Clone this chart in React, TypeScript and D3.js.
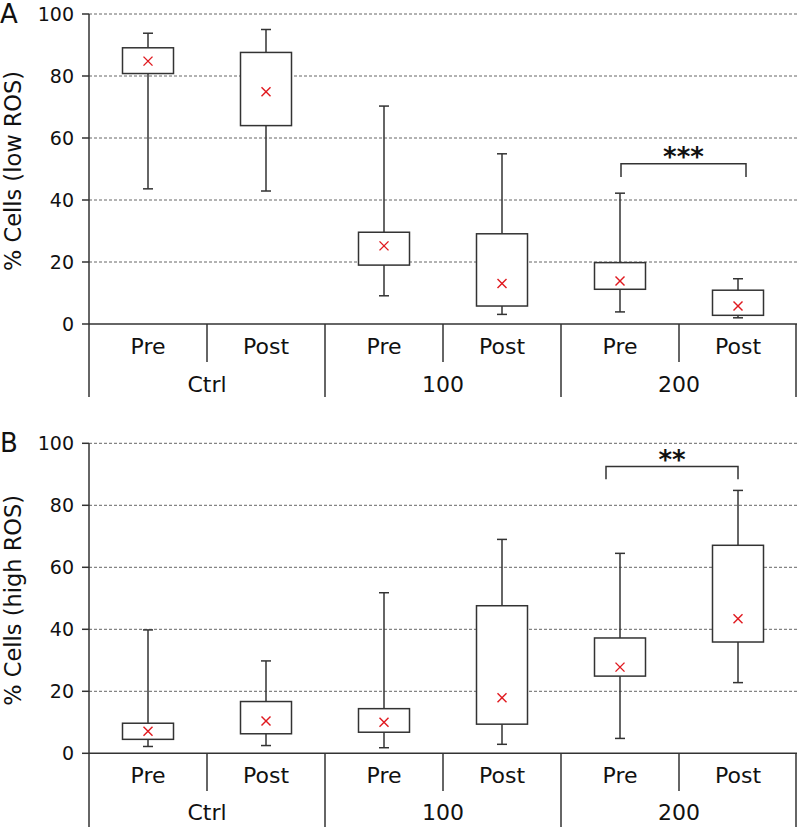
import React from "react";
import * as d3 from "d3";

const categories = ["Pre", "Post", "Pre", "Post", "Pre", "Post"];
const groups = ["Ctrl", "100", "200"];
const yTicks = [0, 20, 40, 60, 80, 100];

// Panel A: % Cells (low ROS)
const lowMin = [43.6, 42.9, 9.1, 3.1, 3.9, 2.0];
const lowQ1 = [80.8, 64.0, 19.0, 5.8, 11.2, 2.8];
const lowQ3 = [89.1, 87.6, 29.6, 29.1, 19.8, 10.9];
const lowMax = [93.8, 95.0, 70.3, 54.9, 42.2, 14.6];
const lowMean = [84.8, 74.9, 25.2, 13.1, 13.9, 5.8];

// Panel B: % Cells (high ROS)
const highMin = [2.2, 2.5, 1.8, 2.9, 4.8, 22.8];
const highQ1 = [4.5, 6.3, 6.8, 9.4, 24.9, 35.9];
const highQ3 = [9.7, 16.7, 14.4, 47.6, 37.2, 67.1];
const highMax = [39.8, 29.8, 51.8, 69.0, 64.5, 84.8];
const highMean = [7.1, 10.4, 10.0, 17.9, 27.8, 43.4];

const FONT = "'DejaVu Sans', Verdana, sans-serif";

type PanelProps = {
  letter: string;
  title: string;
  top: number;
  bottom: number;
  mins: number[];
  q1s: number[];
  q3s: number[];
  maxs: number[];
  means: number[];
  sig: { stars: string; value: number; drop: number; x0off: number; x1off: number };
  catLineEnd: number;
  groupLineEnd: number;
  catLabelY: number;
  groupLabelY: number;
  letterY: number;
};

function Panel(p: PanelProps) {
  const x = d3
    .scaleBand<number>()
    .domain(d3.range(categories.length))
    .range([89, 797])
    .paddingInner(0)
    .paddingOuter(0);
  const y = d3.scaleLinear().domain([0, 100]).range([p.bottom, p.top]);
  const bw = x.bandwidth();
  const boxW = 51;
  const capW = 10;
  const cx = (i: number) => (x(i) as number) + bw / 2;
  const stroke = "#333";
  const sigY = y(p.sig.value);
  const sx0 = cx(4) + p.sig.x0off;
  const sx1 = cx(5) + p.sig.x1off;
  return (
    <g>
      <text x={0} y={p.letterY} fontFamily={FONT} fontSize={26} fill="#111">
        {p.letter}
      </text>
      <text
        transform={`translate(${20.5},${(p.top + p.bottom) / 2 + 2}) rotate(-90)`}
        textAnchor="middle"
        fontFamily={FONT}
        fontSize={22.5}
        fill="#111"
      >
        {p.title}
      </text>
      {yTicks.map((t) => (
        <g key={t}>
          {t > 0 && (
            <line
              x1={89}
              x2={797}
              y1={y(t)}
              y2={y(t)}
              stroke="#666"
              strokeWidth={1}
              strokeDasharray="3,2"
            />
          )}
          <line x1={82} x2={89} y1={y(t)} y2={y(t)} stroke={stroke} strokeWidth={1.5} />
          <text
            x={74}
            y={y(t)}
            dy="0.36em"
            textAnchor="end"
            fontFamily={FONT}
            fontSize={19}
            fill="#111"
          >
            {t}
          </text>
        </g>
      ))}
      {/* axes */}
      <line x1={89} x2={89} y1={p.top} y2={p.groupLineEnd} stroke={stroke} strokeWidth={1.5} />
      <line x1={89} x2={797} y1={p.bottom} y2={p.bottom} stroke={stroke} strokeWidth={1.5} />
      {categories.map((_, i) => {
        const xr = (x(i) as number) + bw;
        const isGroupEnd = i % 2 === 1;
        return (
          <line
            key={"sep" + i}
            x1={Math.min(xr, 796)}
            x2={Math.min(xr, 796)}
            y1={p.bottom}
            y2={isGroupEnd ? p.groupLineEnd : p.catLineEnd}
            stroke={stroke}
            strokeWidth={1.5}
          />
        );
      })}
      {categories.map((c, i) => (
        <text
          key={"cat" + i}
          x={cx(i)}
          y={p.catLabelY}
          textAnchor="middle"
          fontFamily={FONT}
          fontSize={22}
          fill="#111"
        >
          {c}
        </text>
      ))}
      {groups.map((g, gi) => (
        <text
          key={"grp" + gi}
          x={x(gi * 2 + 1) as number}
          y={p.groupLabelY}
          textAnchor="middle"
          fontFamily={FONT}
          fontSize={22}
          fill="#111"
        >
          {g}
        </text>
      ))}
      {/* boxes */}
      {categories.map((_, i) => {
        const c = cx(i);
        return (
          <g key={"box" + i} stroke={stroke} strokeWidth={1.5} fill="none">
            <line x1={c} x2={c} y1={y(p.maxs[i])} y2={y(p.q3s[i])} />
            <line x1={c} x2={c} y1={y(p.q1s[i])} y2={y(p.mins[i])} />
            <line x1={c - capW / 2} x2={c + capW / 2} y1={y(p.maxs[i])} y2={y(p.maxs[i])} />
            <line x1={c - capW / 2} x2={c + capW / 2} y1={y(p.mins[i])} y2={y(p.mins[i])} />
            <rect
              x={c - boxW / 2}
              y={y(p.q3s[i])}
              width={boxW}
              height={y(p.q1s[i]) - y(p.q3s[i])}
              fill="#fff"
            />
            <g stroke="#e0191f" strokeWidth={1.4}>
              <line x1={c - 4.5} x2={c + 4.5} y1={y(p.means[i]) - 4.5} y2={y(p.means[i]) + 4.5} />
              <line x1={c - 4.5} x2={c + 4.5} y1={y(p.means[i]) + 4.5} y2={y(p.means[i]) - 4.5} />
            </g>
          </g>
        );
      })}
      {/* significance bracket */}
      <path
        d={`M${sx0},${y(p.sig.value - p.sig.drop)}V${sigY}H${sx1}V${y(p.sig.value - p.sig.drop)}`}
        fill="none"
        stroke={stroke}
        strokeWidth={1.5}
      />
      <text
        x={(sx0 + sx1) / 2}
        y={sigY + 2}
        textAnchor="middle"
        fontFamily={FONT}
        fontSize={26}
        fontWeight="bold"
        fill="#111"
      >
        {p.sig.stars}
      </text>
    </g>
  );
}

export default function App() {
  return (
    <svg
      width={797}
      height={827}
      style={{ position: "absolute", left: 0, top: 0, background: "#fff" }}
    >
      <rect width={797} height={827} fill="#fff" />
      <Panel
        letter="A"
        title="% Cells (low ROS)"
        top={14}
        bottom={324}
        mins={lowMin}
        q1s={lowQ1}
        q3s={lowQ3}
        maxs={lowMax}
        means={lowMean}
        sig={{ stars: "***", value: 51.7, drop: 4.3, x0off: 1, x1off: 8 }}
        catLineEnd={362}
        groupLineEnd={397}
        catLabelY={354}
        groupLabelY={392}
        letterY={23}
      />
      <Panel
        letter="B"
        title="% Cells (high ROS)"
        top={443.3}
        bottom={753.3}
        mins={highMin}
        q1s={highQ1}
        q3s={highQ3}
        maxs={highMax}
        means={highMean}
        sig={{ stars: "**", value: 92.5, drop: 4.1, x0off: -14, x1off: 0 }}
        catLineEnd={791}
        groupLineEnd={827}
        catLabelY={783}
        groupLabelY={820}
        letterY={452}
      />
    </svg>
  );
}
